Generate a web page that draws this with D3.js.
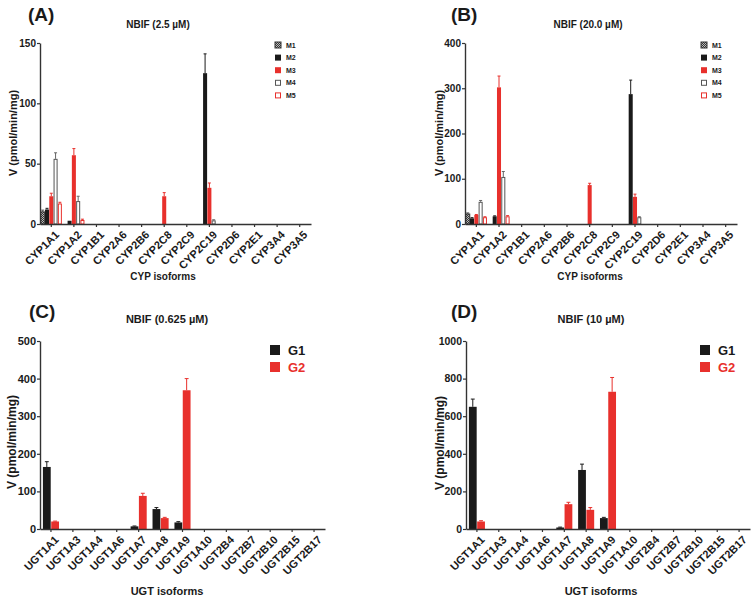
<!DOCTYPE html>
<html>
<head>
<meta charset="utf-8">
<script src="https://cdn.jsdelivr.net/npm/d3@7"></script>
<style>
  body { margin: 0; background: #fff; }
  svg text { font-family: "Liberation Sans", Arial, sans-serif; font-weight: bold; fill: #1a1a1a; }
</style>
</head>
<body>
<div id="chart"></div>
<script>
// Categories
const cypIsoforms = ["CYP1A1", "CYP1A2", "CYP1B1", "CYP2A6", "CYP2B6", "CYP2C8", "CYP2C9", "CYP2C19", "CYP2D6", "CYP2E1", "CYP3A4", "CYP3A5"];
const ugtIsoforms = ["UGT1A1", "UGT1A3", "UGT1A4", "UGT1A6", "UGT1A7", "UGT1A8", "UGT1A9", "UGT1A10", "UGT2B4", "UGT2B7", "UGT2B10", "UGT2B15", "UGT2B17"];
const cypSeries = ["M1", "M2", "M3", "M4", "M5"];
const ugtSeries = ["G1", "G2"];

// Panel A: NBIF 2.5 uM (mean, error)
const aM1 = [10, 0, 0, 0, 0, 0, 0, 0, 0, 0, 0, 0];
const aM1err = [1.5, 0, 0, 0, 0, 0, 0, 0, 0, 0, 0, 0];
const aM2 = [12, 2.7, 0, 0, 0, 0, 0, 125, 0, 0, 0, 0];
const aM2err = [1, 0, 0, 0, 0, 0, 0, 16, 0, 0, 0, 0];
const aM3 = [23, 57, 0, 0, 0, 23, 0, 30, 0, 0, 0, 0];
const aM3err = [2.5, 5.5, 0, 0, 0, 3, 0, 4, 0, 0, 0, 0];
const aM4 = [54, 19, 0, 0, 0, 0, 0, 3, 0, 0, 0, 0];
const aM4err = [5, 4, 0, 0, 0, 0, 0, 0.5, 0, 0, 0, 0];
const aM5 = [17, 3.3, 0, 0, 0, 0, 0, 0, 0, 0, 0, 0];
const aM5err = [1, 0.7, 0, 0, 0, 0, 0, 0, 0, 0, 0, 0];

// Panel B: NBIF 20.0 uM
const bM1 = [22, 0, 0, 0, 0, 0, 0, 0, 0, 0, 0, 0];
const bM1err = [2.5, 0, 0, 0, 0, 0, 0, 0, 0, 0, 0, 0];
const bM2 = [12.5, 17, 0, 0, 0, 0, 0, 287, 0, 0, 0, 0];
const bM2err = [1.5, 1, 0, 0, 0, 0, 0, 31, 0, 0, 0, 0];
const bM3 = [20, 302, 0, 0, 0, 86, 0, 60, 0, 0, 0, 0];
const bM3err = [1, 25, 0, 0, 0, 4, 0, 6, 0, 0, 0, 0];
const bM4 = [49, 104, 0, 0, 0, 0, 0, 15, 0, 0, 0, 0];
const bM4err = [3, 12, 0, 0, 0, 0, 0, 1, 0, 0, 0, 0];
const bM5 = [15, 17, 0, 0, 0, 0, 0, 0, 0, 0, 0, 0];
const bM5err = [1, 1.5, 0, 0, 0, 0, 0, 0, 0, 0, 0, 0];

// Panel C: NBIF 0.625 uM
const cG1 = [165, 0, 0, 0, 7, 53, 17.5, 0, 0, 0, 0, 0, 0];
const cG1err = [14, 0, 0, 0, 1, 4, 2, 0, 0, 0, 0, 0, 0];
const cG2 = [20, 0, 0, 0, 88, 29, 369, 0, 0, 0, 0, 0, 0];
const cG2err = [1, 0, 0, 0, 7, 2, 31, 0, 0, 0, 0, 0, 0];

// Panel D: NBIF 10 uM
const dG1 = [650, 0, 0, 0, 8, 314, 58, 0, 0, 0, 0, 0, 0];
const dG1err = [41, 0, 0, 0, 2, 31, 4, 0, 0, 0, 0, 0, 0];
const dG2 = [40, 0, 0, 0, 132, 102, 730, 0, 0, 0, 0, 0, 0];
const dG2err = [4, 0, 0, 0, 10, 12, 76, 0, 0, 0, 0, 0, 0];

const red = "#e8302c";
const black = "#1a1a1a";

const svg = d3.select("#chart").append("svg")
  .attr("width", 756)
  .attr("height", 598);

// checkered fill for M1
const defs = svg.append("defs");
const pat = defs.append("pattern")
  .attr("id", "checker")
  .attr("width", 2).attr("height", 2)
  .attr("patternUnits", "userSpaceOnUse");
pat.append("rect").attr("width", 2).attr("height", 2).attr("fill", "#bbb");
pat.append("rect").attr("width", 1).attr("height", 1).attr("fill", "#333");
pat.append("rect").attr("x", 1).attr("y", 1).attr("width", 1).attr("height", 1).attr("fill", "#333");

const cypStyle = {
  M1: { fill: "url(#checker)", stroke: "#333", err: "#555" },
  M2: { fill: black, stroke: black, err: black },
  M3: { fill: red, stroke: red, err: red },
  M4: { fill: "#fff", stroke: "#555", err: "#666" },
  M5: { fill: "#fff", stroke: red, err: red }
};
const ugtStyle = {
  G1: { fill: black, stroke: black, err: black },
  G2: { fill: red, stroke: red, err: red }
};

function drawPanel(p) {
  const w = p.x1 - p.x0;
  const h = p.y1 - p.y0;
  const g = svg.append("g").attr("transform", `translate(${p.x0}, ${p.y0})`);

  const x0 = d3.scaleBand().domain(p.categories).range([0, w])
    .paddingInner(p.pad).paddingOuter(p.pad / 2);
  const x1 = d3.scaleBand().domain(p.series).range([0, x0.bandwidth()]).padding(0.06);
  const y = d3.scaleLinear().domain([0, p.yMax]).range([h, 0]);

  // bars
  p.series.forEach((s, si) => {
    const vals = p.values[si];
    const errs = p.errors[si];
    const st = p.style[s];
    const sg = g.append("g");
    const rows = p.categories.map((c, i) => ({ c: c, v: vals[i], e: errs[i] })).filter(d => d.v > 0);
    const outlined = st.fill === "#fff";
    // error bars (up only)
    sg.selectAll(".err").data(rows.filter(d => d.e > 0)).join("g").each(function (d) {
      const cx = x0(d.c) + x1(s) + x1.bandwidth() / 2;
      const cap = Math.max(x1.bandwidth() * 0.25, 1.5);
      const e = d3.select(this);
      e.append("line").attr("x1", cx).attr("x2", cx)
        .attr("y1", y(d.v)).attr("y2", y(d.v + d.e))
        .attr("stroke", st.err).attr("stroke-width", 1);
      e.append("line").attr("x1", cx - cap).attr("x2", cx + cap)
        .attr("y1", y(d.v + d.e)).attr("y2", y(d.v + d.e))
        .attr("stroke", st.err).attr("stroke-width", 1);
    });
    sg.selectAll("rect").data(rows).join("rect")
      .attr("x", d => x0(d.c) + x1(s) + (outlined ? 0.5 : 0))
      .attr("y", d => y(d.v) + (outlined ? 0.5 : 0))
      .attr("width", x1.bandwidth() - (outlined ? 1 : 0))
      .attr("height", d => h - y(d.v) - (outlined ? 0.5 : 0))
      .attr("fill", st.fill)
      .attr("stroke", outlined || s === "M1" ? st.stroke : "none")
      .attr("stroke-width", 1);
  });

  // axes
  const yAxis = g.append("g")
    .call(d3.axisLeft(y).tickValues(p.yTicks).tickFormat(d3.format("d"))
      .tickSize(3).tickPadding(1).tickSizeOuter(0));
  yAxis.selectAll("text").style("font-size", p.tickFont + "px");
  const xAxis = g.append("g")
    .attr("transform", `translate(0, ${h})`)
    .call(d3.axisBottom(x0).tickSize(3).tickSizeOuter(0).tickFormat(""));
  [yAxis, xAxis].forEach(a => {
    a.select(".domain").attr("stroke", "#333").attr("stroke-width", 1.4);
    a.selectAll(".tick line").attr("stroke", "#333").attr("stroke-width", 1.2);
  });

  // rotated category labels
  g.selectAll(".xlab").data(p.categories).join("text")
    .attr("class", "xlab")
    .attr("transform", d => `translate(${x0(d) + x0.bandwidth() / 2 + 3}, ${h + 6}) rotate(-45)`)
    .attr("text-anchor", "end")
    .attr("dy", "0.7em")
    .style("font-size", "11px")
    .text(d => d);

  // titles
  svg.append("text").attr("x", p.labelX).attr("y", p.labelY)
    .style("font-size", "19px").text(p.label);
  svg.append("text").attr("x", p.titleX).attr("y", p.titleY)
    .attr("text-anchor", "middle").style("font-size", p.titleFont + "px").text(p.title);
  svg.append("text")
    .attr("transform", `translate(${p.yTitleX}, ${p.yTitleY}) rotate(-90)`)
    .attr("text-anchor", "middle").style("font-size", p.yTitleFont + "px")
    .text("V (pmol/min/mg)");
  svg.append("text").attr("x", p.xTitleX).attr("y", p.xTitleY)
    .attr("text-anchor", "middle").style("font-size", p.xTitleFont + "px").text(p.xTitle);

  // legend
  const lg = svg.append("g").attr("transform", `translate(${p.legX}, ${p.legY})`);
  p.series.forEach((s, i) => {
    const st = p.style[s];
    const outlined = st.fill === "#fff";
    lg.append("rect")
      .attr("x", outlined ? 0.5 : 0).attr("y", i * p.legStep + (outlined ? 0.5 : 0))
      .attr("width", p.legBox - (outlined ? 1 : 0)).attr("height", p.legBox - (outlined ? 1 : 0))
      .attr("fill", st.fill)
      .attr("stroke", outlined || s === "M1" ? st.stroke : "none");
    lg.append("text")
      .attr("x", p.legBox + p.legGap).attr("y", i * p.legStep + p.legBox / 2)
      .attr("dy", "0.36em")
      .style("font-size", p.legFont + "px")
      .style("fill", p.legColor(s))
      .text(s);
  });
}

drawPanel({
  x0: 40, x1: 311, y0: 43, y1: 224,
  categories: cypIsoforms, series: cypSeries, style: cypStyle,
  values: [aM1, aM2, aM3, aM4, aM5], errors: [aM1err, aM2err, aM3err, aM4err, aM5err],
  pad: 0.04, yMax: 150, yTicks: [0, 50, 100, 150], tickFont: 10,
  label: "(A)", labelX: 28, labelY: 21,
  title: "NBIF (2.5 µM)", titleX: 158, titleY: 28, titleFont: 10,
  yTitleX: 17, yTitleY: 133, yTitleFont: 11,
  xTitle: "CYP isoforms", xTitleX: 163, xTitleY: 280, xTitleFont: 10,
  legX: 275, legY: 42, legStep: 12.6, legBox: 6, legGap: 5, legFont: 7,
  legColor: s => black
});

drawPanel({
  x0: 465, x1: 737, y0: 43, y1: 224,
  categories: cypIsoforms, series: cypSeries, style: cypStyle,
  values: [bM1, bM2, bM3, bM4, bM5], errors: [bM1err, bM2err, bM3err, bM4err, bM5err],
  pad: 0.04, yMax: 400, yTicks: [0, 100, 200, 300, 400], tickFont: 10,
  label: "(B)", labelX: 451, labelY: 21,
  title: "NBIF (20.0 µM)", titleX: 588, titleY: 28, titleFont: 10,
  yTitleX: 443, yTitleY: 133, yTitleFont: 11,
  xTitle: "CYP isoforms", xTitleX: 590, xTitleY: 280, xTitleFont: 10,
  legX: 701, legY: 42, legStep: 12.6, legBox: 6, legGap: 5, legFont: 7,
  legColor: s => black
});

drawPanel({
  x0: 40, x1: 325, y0: 341, y1: 529,
  categories: ugtIsoforms, series: ugtSeries, style: ugtStyle,
  values: [cG1, cG2], errors: [cG1err, cG2err],
  pad: 0.22, yMax: 500, yTicks: [0, 100, 200, 300, 400, 500], tickFont: 11,
  label: "(C)", labelX: 29, labelY: 318,
  title: "NBIF (0.625 µM)", titleX: 167, titleY: 323, titleFont: 11,
  yTitleX: 16, yTitleY: 442, yTitleFont: 12,
  xTitle: "UGT isoforms", xTitleX: 167, xTitleY: 595, xTitleFont: 11,
  legX: 270, legY: 345, legStep: 17, legBox: 10, legGap: 8, legFont: 13,
  legColor: s => s === "G2" ? red : black
});

drawPanel({
  x0: 466, x1: 750, y0: 341, y1: 529,
  categories: ugtIsoforms, series: ugtSeries, style: ugtStyle,
  values: [dG1, dG2], errors: [dG1err, dG2err],
  pad: 0.22, yMax: 1000, yTicks: [0, 200, 400, 600, 800, 1000], tickFont: 10.5,
  label: "(D)", labelX: 451, labelY: 318,
  title: "NBIF (10 µM)", titleX: 591, titleY: 323, titleFont: 11,
  yTitleX: 444, yTitleY: 443, yTitleFont: 12,
  xTitle: "UGT isoforms", xTitleX: 601, xTitleY: 595, xTitleFont: 11,
  legX: 700, legY: 345, legStep: 17, legBox: 10, legGap: 8, legFont: 13,
  legColor: s => s === "G2" ? red : black
});
</script>
</body>
</html>
